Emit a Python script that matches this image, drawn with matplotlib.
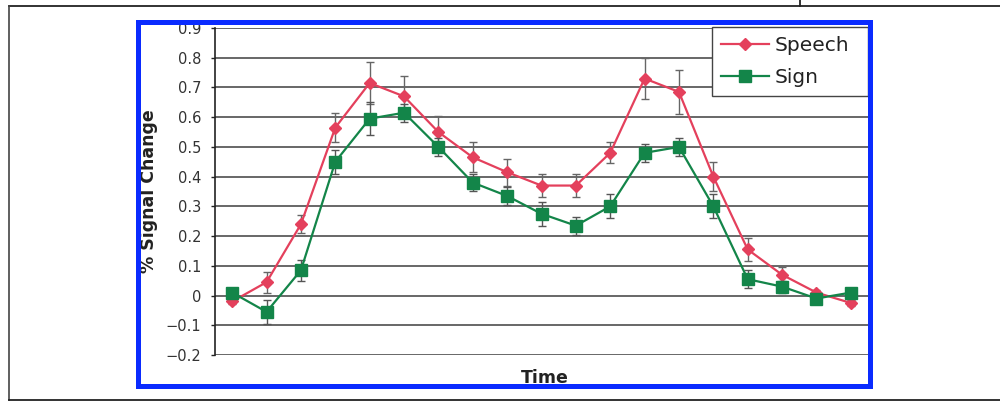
import matplotlib
matplotlib.use("Agg")
import matplotlib.pyplot as plt
from matplotlib.lines import Line2D
from matplotlib.patches import Rectangle

# time points (category axis, no labels shown)
time_points = list(range(1, 20))

speech = [-0.02, 0.045, 0.24, 0.565, 0.715, 0.67, 0.55, 0.465, 0.415, 0.37,
          0.37, 0.48, 0.73, 0.685, 0.40, 0.155, 0.07, 0.01, -0.025]
speech_err = [0.01, 0.035, 0.03, 0.05, 0.07, 0.07, 0.055, 0.05, 0.045, 0.04,
              0.04, 0.035, 0.07, 0.075, 0.05, 0.04, 0.025, 0.01, 0.01]

sign = [0.01, -0.055, 0.085, 0.45, 0.595, 0.615, 0.50, 0.38, 0.335, 0.275,
        0.235, 0.30, 0.48, 0.50, 0.30, 0.055, 0.03, -0.01, 0.01]
sign_err = [0.01, 0.04, 0.035, 0.04, 0.055, 0.03, 0.03, 0.03, 0.03, 0.04,
            0.03, 0.04, 0.03, 0.03, 0.04, 0.03, 0.02, 0.01, 0.01]

y_ticks = [-0.2, -0.1, 0, 0.1, 0.2, 0.3, 0.4, 0.5, 0.6, 0.7, 0.8, 0.9]
y_labels = ["\u22120.2", "\u22120.1", "0", "0.1", "0.2", "0.3", "0.4",
            "0.5", "0.6", "0.7", "0.8", "0.9"]

RED = "#e4405c"
GREEN = "#138549"

W, H = 1000, 403
fig = plt.figure(figsize=(W / 100, H / 100), dpi=100)
fig.patch.set_facecolor("white")

left, right, top, bottom = 215, 868, 28, 355
ax = fig.add_axes([left / W, 1 - bottom / H, (right - left) / W, (bottom - top) / H])

x = list(range(len(time_points)))
sp = ax.errorbar(x, speech, yerr=speech_err, color=RED, marker="D", markersize=6,
                 linewidth=1.6, ecolor="#666666", elinewidth=1, capsize=3,
                 label="Speech", zorder=3)
sg = ax.errorbar(x, sign, yerr=sign_err, color=GREEN, marker="s", markersize=8,
                 linewidth=1.6, ecolor="#555555", elinewidth=1, capsize=3,
                 label="Sign", zorder=4)

ax.set_xlim(-0.5, len(time_points) - 0.5)
ax.set_ylim(-0.2, 0.9)
ax.set_yticks(y_ticks)
ax.set_yticklabels(y_labels, fontsize=10.5, color="#333333")
ax.set_xticks([])
ax.tick_params(axis="y", length=3, width=1, pad=7, color="#222222")

ax.grid(axis="y", color="#5c5c5c", linewidth=1.3)
ax.set_axisbelow(True)
for side in ["top", "right", "bottom"]:
    ax.spines[side].set_visible(False)
ax.spines["left"].set_color("#222222")
ax.spines["left"].set_linewidth(1.2)

ax.set_ylabel("% Signal Change", fontsize=12.5, fontweight="bold", color="#222222")
ax.yaxis.set_label_coords(-0.087, 0.5)
ax.set_xlabel("Time", fontsize=12.5, fontweight="bold", color="#222222")
ax.xaxis.set_label_coords(0.505, -0.042)

# legend shows only line + marker, no error bar
leg = ax.legend(handles=[sp[0], sg[0]], labels=["Speech", "Sign"],
                loc="upper left", bbox_to_anchor=(0.761, 1.003, 0.239, 0),
                mode="expand", borderaxespad=0, fontsize=14.5, fancybox=False,
                framealpha=1, edgecolor="#444444", handlelength=2.4,
                handletextpad=0.25, labelspacing=0.65, borderpad=0.45)
leg.get_frame().set_linewidth(1)
for t in leg.get_texts():
    t.set_color("#222222")

# blue frame around the chart
fig.add_artist(Rectangle((138 / W, 1 - 386 / H), (870 - 138) / W, (386 - 22) / H,
                         transform=fig.transFigure, fill=False,
                         edgecolor="#0a2bff", linewidth=3.6, zorder=10))

# page frame lines
fig.add_artist(Line2D([9 / W, 1], [1 - 6 / H, 1 - 6 / H], transform=fig.transFigure,
                      color="#222222", linewidth=1.3))
fig.add_artist(Line2D([800 / W, 800 / W], [1, 1 - 6 / H], transform=fig.transFigure,
                      color="#222222", linewidth=1.3))
fig.add_artist(Line2D([9 / W, 9 / W], [1 - 6 / H, 1 - 400 / H], transform=fig.transFigure,
                      color="#444444", linewidth=1.2))
fig.add_artist(Line2D([9 / W, 1], [1 - 400 / H, 1 - 400 / H], transform=fig.transFigure,
                      color="#222222", linewidth=1.3))

fig.savefig("out.png", dpi=100)
